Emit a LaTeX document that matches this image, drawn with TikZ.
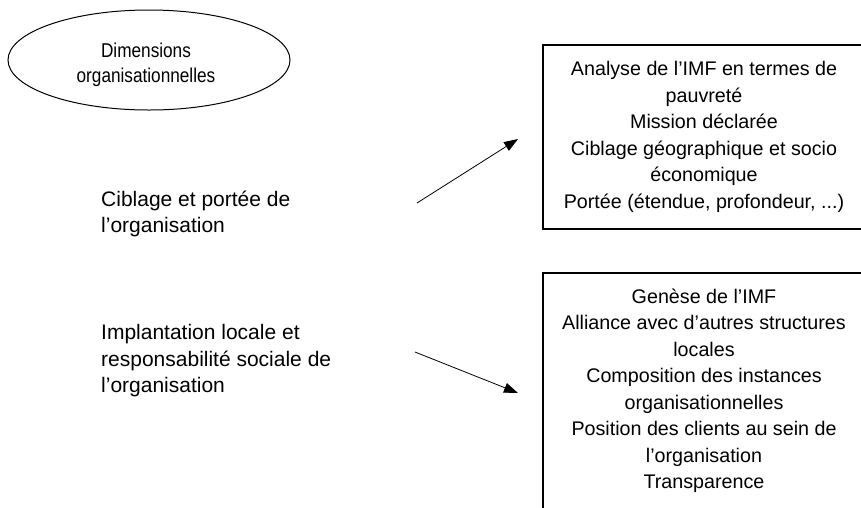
\documentclass[tikz,border=0pt]{standalone}
\usepackage{fontspec}
\setmainfont{Liberation Sans}
\newfontfamily\condfont[FakeStretch=0.86]{Liberation Sans}
\usetikzlibrary{shapes.geometric,arrows.meta}
\tikzset{
  ovalbox/.style={ellipse, draw, line width=1pt, minimum width=282pt, minimum height=100pt, inner sep=0pt},
  ovaltext/.style={align=center, inner sep=0pt, font=\condfont\fontsize{20}{25}\selectfont},
  sidetext/.style={anchor=west, align=left, inner sep=0pt, font=\fontsize{21}{26.5}\selectfont},
  itembox/.style={draw, line width=1.2pt, minimum width=322pt, inner sep=0pt, align=center,
    font=\fontsize{19.7}{26.5}\selectfont},
  link/.style={line width=0.8pt, -{Triangle[length=14pt,width=10pt]}}
}
\begin{document}
\begin{tikzpicture}[x=1pt,y=-1pt]
\useasboundingbox (0,0) rectangle (861,507);
\clip (0,0) rectangle (861,507);
\node[ovalbox] (dim) at (149,60) {};
\node[ovaltext] (dimt) at (146,65) {Dimensions\\organisationnelles};
\node[sidetext] (cib) at (101,214) {Ciblage et portée de\\l’organisation};
\node[sidetext] (imp) at (101,361) {Implantation locale et\\responsabilité sociale de\\l’organisation};
\node[itembox, minimum height=184pt] (b1) at (704,137) {Analyse de l’IMF en termes de\\pauvreté\\Mission déclarée\\Ciblage géographique et socio\\économique\\Portée (étendue, profondeur, ...)};
\node[itembox, minimum height=236pt] (b2) at (704,391) {Genèse de l’IMF\\Alliance avec d’autres structures\\locales\\Composition des instances\\organisationnelles\\Position des clients au sein de\\l’organisation\\Transparence};
\coordinate (a1s) at (417,203);
\coordinate (a1e) at (518,139);
\coordinate (a2s) at (415,352);
\coordinate (a2e) at (518,393);
\draw[link] (a1s) -- (a1e);
\draw[link] (a2s) -- (a2e);
\end{tikzpicture}
\end{document}
